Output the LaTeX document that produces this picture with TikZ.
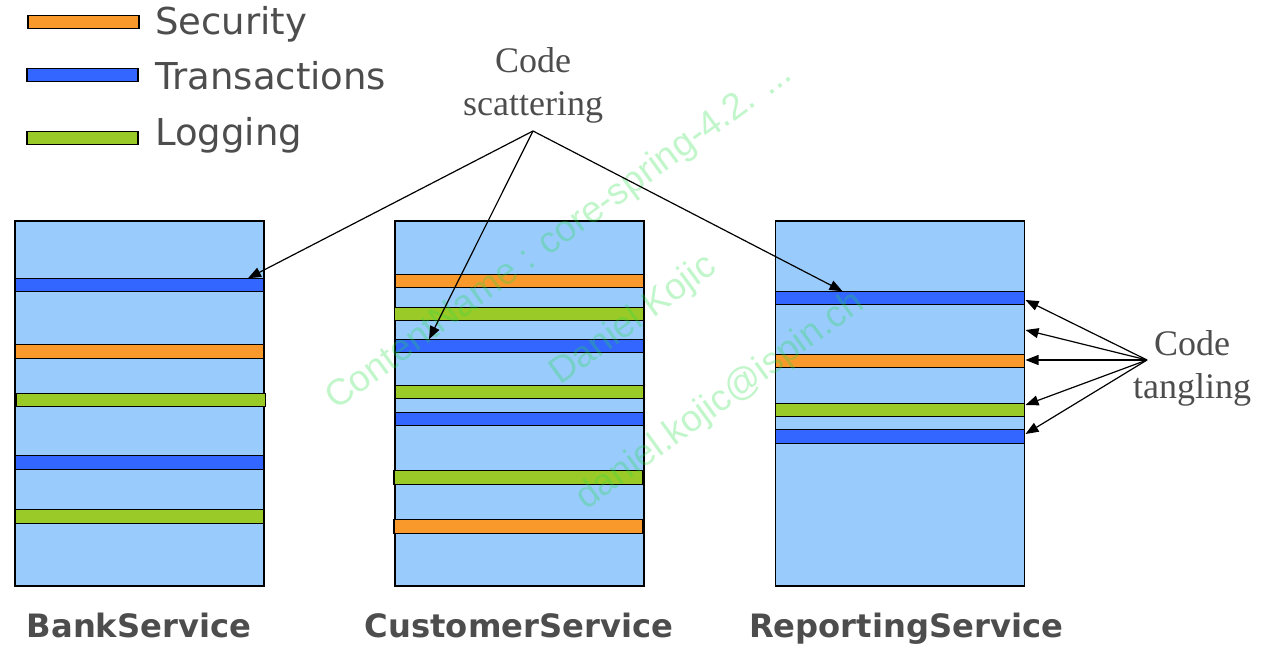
\documentclass[tikz,border=0pt]{standalone}
\usepackage{fontspec}
\setmainfont{Liberation Serif}
\newfontfamily\legendfont{DejaVu Sans}
\newfontfamily\wmfont{Liberation Sans}
\usetikzlibrary{arrows.meta,calc}
\definecolor{boxblue}{HTML}{99CCFC}
\definecolor{txblue}{HTML}{3366FF}
\definecolor{secorange}{HTML}{FA992B}
\definecolor{loggreen}{HTML}{9ACA28}
\definecolor{txtgray}{HTML}{4D4D4D}
\definecolor{wmgreen}{HTML}{22DD44}
\tikzset{
  svc/.style={draw=black, line width=1.4pt, fill=boxblue, minimum width=249pt, minimum height=365pt, inner sep=0pt, outer sep=0pt},
  band/.style={draw=black, line width=1.3pt, minimum width=249pt, minimum height=13.5pt, inner sep=0pt, outer sep=0pt},
  secb/.style={band, fill=secorange},
  txb/.style={band, fill=txblue},
  logb/.style={band, fill=loggreen},
  legb/.style={band, minimum width=111pt},
  legtext/.style={anchor=base west, inner sep=0pt, text=txtgray, font=\legendfont\fontsize{37}{44}\selectfont},
  svclabel/.style={anchor=base, inner sep=0pt, text=txtgray, font=\legendfont\bfseries\fontsize{32.2}{38}\selectfont},
  note/.style={anchor=base, inner sep=0pt, text=txtgray, font=\fontsize{36}{43}\selectfont},
  arr/.style={draw=black, line width=1.2pt, -{Triangle[length=13pt,width=10pt]}},
  wm/.style={anchor=base west, inner sep=0pt, rotate=36, text=wmgreen, text opacity=0.28, font=\wmfont\fontsize{37}{44}\selectfont}
}
\begin{document}
\begin{tikzpicture}[x=1pt,y=-1pt]
\useasboundingbox (0,0) rectangle (1266,654);
% legend
\node[legb, fill=secorange] (lsec) at (83.5,22) {};
\node[legb, fill=txblue] (ltx) at (82.5,75) {};
\node[legb, fill=loggreen] (llog) at (82.5,138) {};
\node[legtext] (tsec) at (155,34) {Security};
\node[legtext] (ttx) at (155,89) {Transactions};
\node[legtext] (tlog) at (155,145) {Logging};
% service boxes
\node[svc] (bank) at (139.5,403.5) {};
\node[svc] (cust) at (519.5,403.5) {};
\node[svc] (rep) at (900,403.5) {};
% BankService bands
\node[txb] (bk1) at (139.5,285) {};
\node[secb] (bk2) at (139.5,351.5) {};
\node[logb] (bk3) at (141,400) {};
\node[txb] (bk4) at (139.5,462.5) {};
\node[logb] (bk5) at (139.5,516.5) {};
% CustomerService bands
\node[secb] (cu1) at (519.5,281) {};
\node[logb] (cu2) at (519,314) {};
\node[txb] (cu3) at (519.5,346) {};
\node[logb] (cu4) at (519.5,392) {};
\node[txb] (cu5) at (519.5,419) {};
\node[logb] (cu6) at (518.5,477.5) {};
\node[secb] (cu7) at (518.5,526.5) {};
% ReportingService bands
\node[txb] (rp1) at (900,298) {};
\node[secb] (rp2) at (900,361) {};
\node[logb] (rp3) at (900,410) {};
\node[txb] (rp4) at (900,436.5) {};
% watermark
\node[wm] (wm1) at (336,411) {ContentName : core-spring-4.2. ...};
\node[wm] (wm2) at (560,386) {Daniel Kojic};
\node[wm] (wm3) at (586,511) {daniel.kojic@ispin.ch};
% labels
\node[svclabel] (lbank) at (139,637) {BankService};
\node[svclabel] (lcust) at (519,637) {CustomerService};
\node[svclabel] (lrep) at (906,637) {ReportingService};
% notes
\node[note] (scA) at (533,72) {Code};
\node[note] (scB) at (533,115) {scattering};
\node[note] (tgA) at (1192,355) {Code};
\node[note] (tgB) at (1192,398) {tangling};
\coordinate (scat) at (533,131);
\coordinate (tang) at (1147,360);
% scattering arrows
\draw[arr] (scat) -- ($(bk1.north east)+(-16,0)$);
\draw[arr] (scat) -- ($(cu3.north west)+(34,0)$);
\draw[arr] (scat) -- ($(rp1.north west)+(67,0)$);
% tangling arrows
\draw[arr] (tang) -- ($(rep.north east)+(1,79)$);
\draw[arr] (tang) -- ($(rep.north east)+(1,109)$);
\draw[arr] (tang) -- ($(rep.north east)+(1,139)$);
\draw[arr] (tang) -- ($(rep.north east)+(1,184)$);
\draw[arr] (tang) -- ($(rep.north east)+(1,213)$);
\end{tikzpicture}
\end{document}
